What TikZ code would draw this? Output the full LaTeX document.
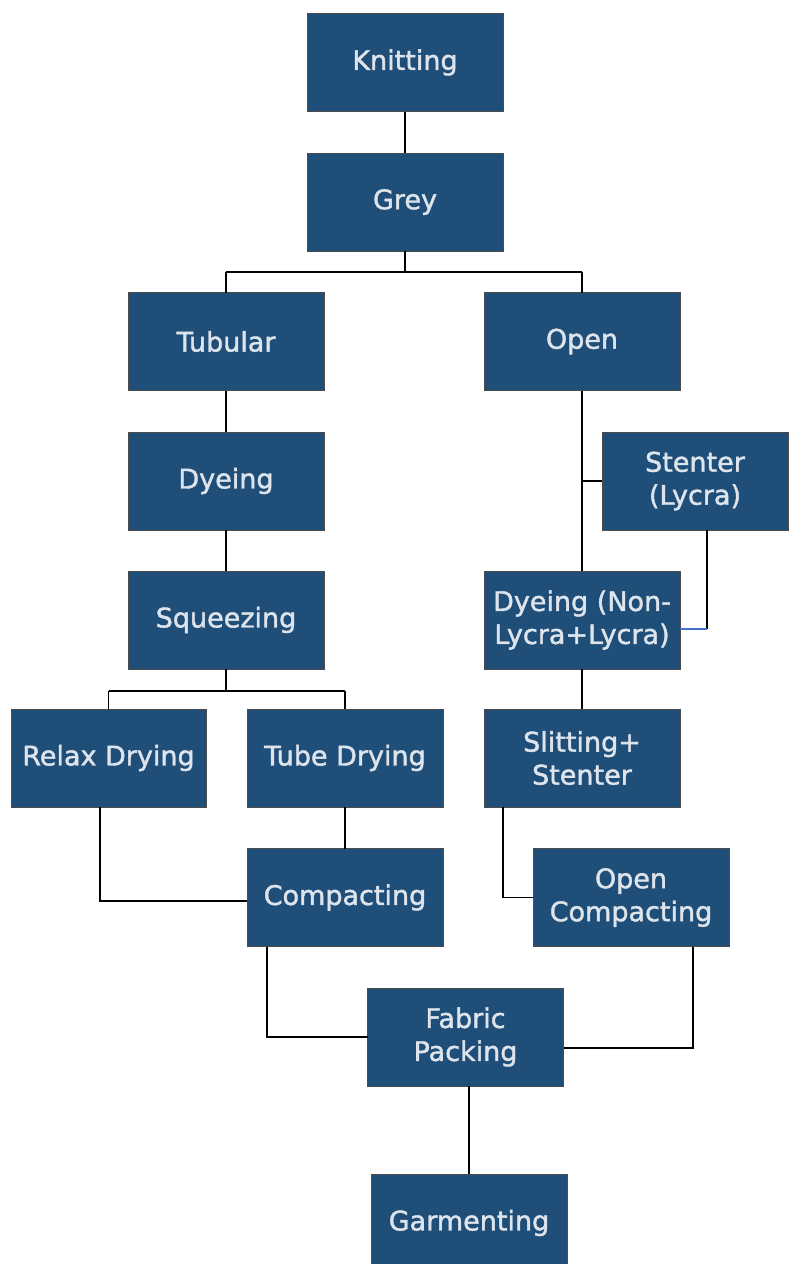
\documentclass[tikz,border=0pt]{standalone}
\usepackage{fontspec}
\setmainfont{DejaVu Sans}[BoldFont={DejaVu Sans},BoldFeatures={FakeBold=1.5}]
\definecolor{boxblue}{RGB}{31,78,121}
\definecolor{boxtext}{RGB}{222,228,236}
\definecolor{linkblue}{RGB}{68,114,196}
\begin{document}
\begin{tikzpicture}[x=1pt,y=-1pt,
  stepbox/.style={draw=black!70,line width=0.6pt,fill=boxblue,text=boxtext,
    minimum width=196pt,minimum height=98pt,inner sep=0pt,outer sep=0pt,
    align=center,font=\bfseries\fontsize{27}{33}\selectfont},
  link/.style={draw=black,line width=1.4pt}]
\useasboundingbox (0,0) rectangle (788,1264);
\node[stepbox] (knit) at (405,62.5) {Knitting};
\node[stepbox] (grey) at (405,202) {Grey};
\node[stepbox] (tub) at (226,341.5) {Tubular};
\node[stepbox] (open) at (582,341.5) {Open};
\node[stepbox] (dye) at (226,481) {Dyeing};
\node[stepbox,minimum width=186pt] (sten) at (695,481) {Stenter\\(Lycra)};
\node[stepbox] (sq) at (226,620) {Squeezing};
\node[stepbox] (dnl) at (582,620) {Dyeing (Non-\\Lycra+Lycra)};
\node[stepbox,minimum width=195pt] (relax) at (108.5,758) {Relax Drying};
\node[stepbox] (tube) at (345,758) {Tube Drying};
\node[stepbox] (slit) at (582,758) {Slitting+\\Stenter};
\node[stepbox] (comp) at (345,897.5) {Compacting};
\node[stepbox] (ocomp) at (631,897.5) {Open\\Compacting};
\node[stepbox] (fab) at (465.5,1037) {Fabric\\Packing};
\node[stepbox] (garm) at (469,1223) {Garmenting};
% connectors
\draw[link] (knit.south) -- (grey.north);
\coordinate (gj) at (405,272);
\draw[link] (grey.south) -- (gj);
\draw[link] (gj -| tub.north) -- (gj -| open.north);
\draw[link] (gj -| tub.north) -- (tub.north);
\draw[link] (gj -| open.north) -- (open.north);
\draw[link] (tub.south) -- (dye.north);
\draw[link] (dye.south) -- (sq.north);
\coordinate (sj) at (226,691);
\draw[link] (sq.south) -- (sj);
\draw[link] (sj -| relax.north) -- (sj -| tube.north);
\draw[link] (sj -| relax.north) -- (relax.north);
\draw[link] (sj -| tube.north) -- (tube.north);
\draw[link] (open.south) -- (dnl.north);
\draw[link] (open.south |- sten.west) -- (sten.west);
\coordinate (sc) at (707,629);
\draw[link] ([xshift=12pt]sten.south) -- (sc);
\draw[draw=linkblue,line width=1.2pt] (sc) -- (sc -| dnl.east);
\draw[link] (dnl.south) -- (slit.north);
\draw[link] ([xshift=-79pt]slit.south) |- (ocomp.west);
\draw[link] ([xshift=-8.5pt]relax.south) |- ([yshift=-3.5pt]comp.west);
\draw[link] (tube.south) -- (comp.north);
\draw[link] ([xshift=-78pt]comp.south) |- (fab.west);
\draw[link] ([xshift=62pt]ocomp.south) |- ([yshift=-11pt]fab.east);
\draw[link] (fab.south -| garm.north) -- (garm.north);
\end{tikzpicture}
\end{document}
